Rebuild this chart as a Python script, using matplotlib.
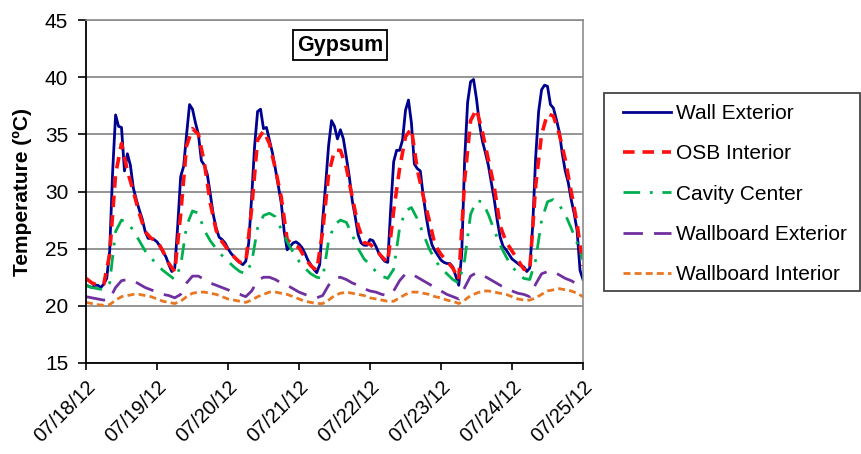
import numpy as np
import matplotlib
matplotlib.use("Agg")
import matplotlib.pyplot as plt
from matplotlib.patches import Rectangle

plt.rcParams['font.family'] = ['Liberation Sans', 'DejaVu Sans']

# Tick labels (one per day)
date_labels = ['07/18/12', '07/19/12', '07/20/12', '07/21/12',
               '07/22/12', '07/23/12', '07/24/12', '07/25/12']

# Hourly readings for Wall Exterior (hours 0..168)
hours_fine = list(range(0, 169))
wall_exterior = [
    21.8, 21.7, 21.6, 21.8, 21.8, 21.6, 21.9, 22.4, 24.8, 31.7,
    36.7, 35.7, 35.6, 31.8, 33.3, 32.3, 30.3, 29.3, 28.4, 27.6,
    26.5, 25.9, 25.9, 25.8, 25.6, 25.2, 24.7, 24.3, 23.6, 23.0,
    23.3, 27.0, 31.3, 32.2, 35.0, 37.6, 37.2, 36.0, 35.0, 32.7,
    32.3, 31.5, 29.8, 28.0, 26.8, 26.0, 25.8, 25.5, 25.0, 24.6,
    24.3, 24.0, 23.8, 23.6, 23.9, 25.5, 29.5, 34.0, 37.0, 37.2,
    35.5, 35.6, 34.5, 33.4, 32.0, 30.5, 29.0, 26.5, 24.9, 25.2,
    25.5, 25.6, 25.4, 25.1, 24.6, 24.0, 23.6, 23.2, 22.9, 23.6,
    27.5, 30.6, 34.0, 36.2, 35.7, 34.6, 35.4, 34.6, 33.0, 31.3,
    29.2, 27.8, 26.2, 25.5, 25.3, 25.3, 25.8, 25.7, 25.2, 24.6,
    24.2, 23.9, 23.8, 28.5, 32.6, 33.6, 33.6, 34.5, 37.1, 38.0,
    36.0, 32.4, 32.0, 31.8, 29.6, 27.8, 26.3, 25.3, 24.8, 24.4,
    24.0, 23.8, 23.7, 23.7, 23.4, 22.6, 21.8, 24.5, 32.8, 37.8,
    39.6, 39.8, 38.1, 35.9, 34.4, 33.4, 32.3, 30.8, 29.3, 27.5,
    26.0, 25.2, 24.9, 24.5, 24.1, 23.9, 23.7, 23.5, 23.4, 23.0,
    23.3, 27.0, 33.0, 37.0, 38.9, 39.3, 39.2, 37.6, 37.3, 36.3,
    35.2, 33.3, 31.8, 30.8, 29.3, 28.1, 26.6, 23.1, 22.3,
]

# Two-hourly readings (hours 0, 2, ..., 168)
hours_coarse = list(range(0, 169, 2))
osb_interior = [
    22.4, 22.0, 21.8, 21.9, 24.5, 31.5, 34.2, 31.8, 30.0, 28.1,
    26.5, 25.9, 25.7, 24.8, 23.7, 23.0, 28.0, 34.0, 35.5, 35.0,
    32.5, 29.0, 26.6, 25.6, 24.9, 24.3, 23.8, 23.8, 28.5, 34.5,
    35.3, 34.2, 32.0, 29.5, 25.8, 25.3, 25.1, 24.2, 23.5, 23.1,
    26.5, 31.5, 33.6, 33.6, 32.1, 29.5, 27.0, 25.5, 25.4, 24.9,
    24.3, 23.8, 28.3, 32.0, 34.8, 35.5, 31.9, 29.6, 27.5, 25.3,
    24.5, 23.9, 23.3, 22.3, 31.0, 36.2, 37.2, 35.2, 32.8, 30.4,
    27.0, 25.6, 24.8, 24.0, 23.2, 23.1, 30.5, 35.0, 36.8, 36.6,
    35.0, 32.8, 30.0, 27.2, 23.5,
]
cavity_center = [
    21.8, 21.6, 21.5, 21.4, 22.0, 26.5, 27.5, 27.3, 26.6, 25.7,
    24.8, 24.2, 23.6, 23.1, 22.7, 22.3, 23.5, 27.0, 28.3, 28.1,
    26.6, 25.7, 25.0, 24.4, 23.9, 23.4, 23.0, 22.8, 23.8, 26.8,
    27.9, 28.1, 27.8, 26.7, 25.6, 24.7, 23.9, 23.3, 22.8, 22.5,
    22.4, 25.7, 27.1, 27.5, 27.3, 26.2, 25.0, 24.1, 23.6, 23.0,
    22.6, 22.4, 23.2, 26.8, 28.3, 28.6, 27.6, 26.3, 25.0, 24.0,
    23.3, 22.8, 22.3, 22.0, 24.0, 28.0, 29.2, 29.1, 28.0, 26.6,
    25.3, 24.3, 23.4, 22.9, 22.4, 22.3, 24.0, 27.5, 29.1, 29.3,
    28.8, 28.0, 26.8, 25.5, 24.0,
]
wallboard_exterior = [
    20.8, 20.7, 20.6, 20.5, 20.6, 21.6, 22.2, 22.3, 22.2, 21.9,
    21.6, 21.4, 21.2, 21.0, 20.9, 20.7, 21.0, 22.0, 22.6, 22.6,
    22.3, 22.0, 21.8, 21.6, 21.4, 21.1, 21.0, 20.8, 21.3, 22.2,
    22.5, 22.5, 22.3, 22.0, 21.8, 21.5, 21.2, 21.0, 20.8, 20.7,
    20.9, 21.8, 22.4, 22.5, 22.3, 22.0, 21.8, 21.5, 21.3, 21.2,
    21.0, 20.9, 21.3, 22.2, 22.8, 22.8, 22.5, 22.2, 21.9, 21.6,
    21.3, 21.0, 20.8, 20.6, 21.6, 22.6, 22.9, 22.7, 22.4, 22.1,
    21.8, 21.5, 21.3, 21.1, 21.0, 20.8, 21.9, 22.8, 23.0, 23.0,
    22.7, 22.4, 22.2, 21.9, 21.6,
]
wallboard_interior = [
    20.3, 20.2, 20.1, 20.05, 20.1, 20.5, 20.8, 20.9, 21.0, 21.0,
    20.9, 20.8, 20.6, 20.4, 20.3, 20.2, 20.4, 20.8, 21.1, 21.2,
    21.2, 21.1, 21.0, 20.8, 20.6, 20.5, 20.4, 20.3, 20.5, 20.8,
    21.0, 21.2, 21.2, 21.1, 21.0, 20.8, 20.6, 20.4, 20.3, 20.2,
    20.2, 20.5, 20.9, 21.1, 21.2, 21.1, 21.0, 20.9, 20.7, 20.6,
    20.5, 20.4, 20.4, 20.7, 21.0, 21.2, 21.2, 21.1, 21.0, 20.8,
    20.7, 20.5, 20.4, 20.2, 20.5, 20.9, 21.1, 21.3, 21.3, 21.2,
    21.1, 21.0, 20.8, 20.6, 20.5, 20.5, 20.7, 21.0, 21.3, 21.4,
    21.5, 21.4, 21.3, 21.1, 20.8,
]

series_names = ['Wall Exterior', 'OSB Interior', 'Cavity Center',
                'Wallboard Exterior', 'Wallboard Interior']

W, H = 862, 454
fig = plt.figure(figsize=(W / 100, H / 100), dpi=100)
ax = fig.add_axes([86 / W, 1 - 363 / H, (583 - 86) / W, (363 - 20) / H])

xf = np.array(hours_fine) / 24.0
xc = np.array(hours_coarse) / 24.0

l1, = ax.plot(xf, wall_exterior, color='#000090', lw=2.0, solid_joinstyle='round')
l2, = ax.plot(xc, osb_interior, color='#FF1010', lw=2.6, dashes=(3.2, 2.2))
l3, = ax.plot(xc, cavity_center, color='#00B050', lw=2.0, dashes=(6, 3.5, 1, 3.5))
l4, = ax.plot(xc, wallboard_exterior, color='#7030A0', lw=2.0, dashes=(7, 4))
l5, = ax.plot(xc, wallboard_interior, color='#E87722', lw=2.0, dashes=(2.5, 1.5))

ax.set_xlim(0, 7)
ax.set_ylim(15, 45)
ax.set_yticks(range(15, 46, 5))
ax.set_xticks(range(0, 8))
ax.set_xticklabels(date_labels, rotation=45, ha='right', rotation_mode='anchor',
                   fontsize=14.5)
ax.tick_params(axis='y', labelsize=15, direction='out', length=5.8, width=1.2, pad=7)
ax.tick_params(axis='x', direction='out', length=5, width=1.2, pad=5)

ax.yaxis.grid(True, color='#8c8c8c', lw=1.3)
ax.set_axisbelow(True)
for s in ['top', 'right']:
    ax.spines[s].set_color('#8c8c8c')
    ax.spines[s].set_linewidth(1.2)
for s in ['left', 'bottom']:
    ax.spines[s].set_color('black')
    ax.spines[s].set_linewidth(1.3)

ax.set_ylabel('Temperature (ºC)', fontsize=15, fontweight='bold', va='center')
ax.yaxis.set_label_coords((22.5 - 86) / 497, 0.5)

ax.text(0.511, 0.927, 'Gypsum', transform=ax.transAxes, ha='center', va='center',
        fontsize=15.5, fontweight='bold',
        bbox=dict(boxstyle='square,pad=0.2', fc='white', ec='black', lw=1.3))

# Legend frame drawn as a rectangle, entries placed inside
fig.patches.append(Rectangle((604 / W, 1 - 291 / H), (860 - 604) / W, (291 - 93) / H,
                             transform=fig.transFigure, fc='white', ec='#444444',
                             lw=1.3, zorder=0))
leg = fig.legend([l1, l2, l3, l4, l5], series_names,
                 loc='upper left', bbox_to_anchor=(619 / W, 1 - 100 / H),
                 frameon=False, fontsize=15, handlelength=2.3, handletextpad=0.25,
                 labelspacing=1.02, borderpad=0.2, borderaxespad=0)

fig.savefig('out.png', dpi=100)
